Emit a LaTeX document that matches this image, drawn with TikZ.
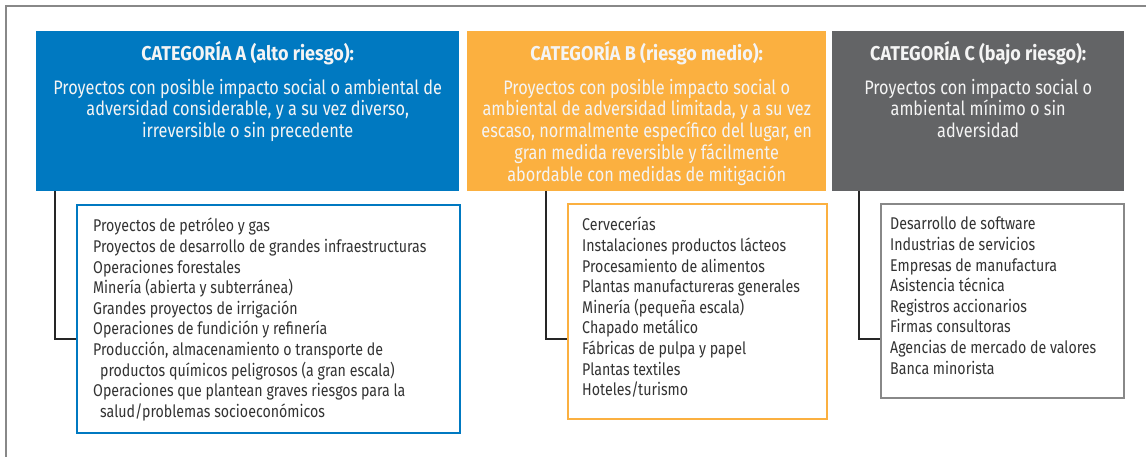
\documentclass[tikz,border=0pt]{standalone}
\usepackage{fontspec}
\setmainfont{Fira Sans}[FakeStretch=0.835]
\newfontfamily\headfont{Fira Sans}[FakeStretch=0.9]
\definecolor{catblue}{HTML}{0079C1}
\definecolor{catorange}{HTML}{FBB040}
\definecolor{catgray}{HTML}{636466}
\definecolor{frame}{HTML}{888888}
\definecolor{listtxt}{HTML}{333333}
\definecolor{headtxt}{HTML}{F4F4F4}
\newcommand{\cathead}[1]{{\headfont\bfseries\fontsize{20}{21.8}\selectfont #1}}
\tikzset{
  catbox/.style={draw=none, inner sep=0pt, anchor=north west, minimum height=160pt},
  headtext/.style={anchor=north, inner sep=0pt, align=center, text=headtxt, font=\fontsize{19.5}{21.8}\selectfont},
  listbox/.style={line width=2pt, fill=white, inner sep=0pt, anchor=north west},
  listtext/.style={anchor=north west, inner sep=0pt, align=left, text=listtxt, font=\fontsize{17}{20.6}\selectfont},
  conn/.style={line width=2pt, draw=black!85},
}
\begin{document}
\begin{tikzpicture}[x=1pt,y=-1pt]
\useasboundingbox (0,0) rectangle (1146,457);
\draw[frame, line width=2pt] (6,457) -- (6,6) -- (1146,6);

% category boxes
\node[catbox, fill=catblue, minimum width=423pt] (A) at (36,31) {};
\node[catbox, fill=catorange, minimum width=359pt] (B) at (467,31) {};
\node[catbox, fill=catgray, minimum width=292pt] (C) at (832,31) {};

\node[headtext] (At) at ([yshift=-10pt]A.north) {\cathead{CATEGORÍA A (alto riesgo):}\\[12pt]
Proyectos con posible impacto social o ambiental de\\
adversidad considerable, y a su vez diverso,\\
irreversible o sin precedente};
\node[headtext] (Bt) at ([yshift=-10pt]B.north) {\cathead{CATEGORÍA B (riesgo medio):}\\[12pt]
Proyectos con posible impacto social o\\
ambiental de adversidad limitada, y a su vez\\
escaso, normalmente específico del lugar, en\\
gran medida reversible y fácilmente\\
abordable con medidas de mitigación};
\node[headtext] (Ct) at ([yshift=-10pt]C.north) {\cathead{CATEGORÍA C (bajo riesgo):}\\[12pt]
Proyectos con impacto social o\\
ambiental mínimo o sin\\
adversidad};

% list boxes
\node[listbox, draw=catblue, minimum width=383pt, minimum height=228pt] (LA) at (76,204) {};
\node[listbox, draw=catorange, minimum width=259pt, minimum height=215pt] (LB) at (567,203) {};
\node[listbox, draw=frame, minimum width=243pt, minimum height=194pt] (LC) at (880,203) {};

\node[listtext] (LAt) at ([xshift=17pt,yshift=-14pt]LA.north west) {Proyectos de petróleo y gas\\
Proyectos de desarrollo de grandes infraestructuras\\
Operaciones forestales\\
Minería (abierta y subterránea)\\
Grandes proyectos de irrigación\\
Operaciones de fundición y refinería\\
Producción, almacenamiento o transporte de\\
\hspace*{7pt}productos químicos peligrosos (a gran escala)\\
Operaciones que plantean graves riesgos para la\\
\hspace*{7pt}salud/problemas socioeconómicos};
\node[listtext] (LBt) at ([xshift=15pt,yshift=-14pt]LB.north west) {Cervecerías\\
Instalaciones productos lácteos\\
Procesamiento de alimentos\\
Plantas manufactureras generales\\
Minería (pequeña escala)\\
Chapado metálico\\
Fábricas de pulpa y papel\\
Plantas textiles\\
Hoteles/turismo};
\node[listtext] (LCt) at ([xshift=10pt,yshift=-14pt]LC.north west) {Desarrollo de software\\
Industrias de servicios\\
Empresas de manufactura\\
Asistencia técnica\\
Registros accionarios\\
Firmas consultoras\\
Agencias de mercado de valores\\
Banca minorista};

% connectors
\coordinate (Ab) at (55,191);
\coordinate (Bb) at (546,191);
\coordinate (Cb) at (859,191);
\draw[conn] (Ab) |- ([yshift=-135pt]LA.north west);
\draw[conn] (Bb) |- ([yshift=-136pt]LB.north west);
\draw[conn] (Cb) |- ([yshift=-136pt]LC.north west);
\end{tikzpicture}
\end{document}
